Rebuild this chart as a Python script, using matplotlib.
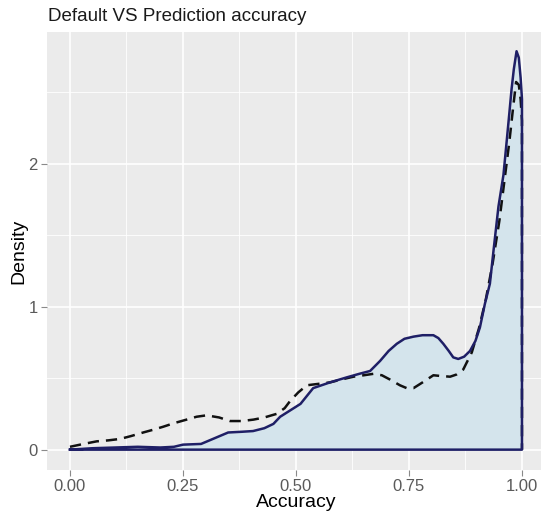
import numpy as np
import matplotlib
matplotlib.use("Agg")
import matplotlib.pyplot as plt
from matplotlib.ticker import FixedLocator

plt.rcParams["font.family"] = "Liberation Sans"

# density of the default model accuracy (filled, solid outline)
default_x = [0.0, 0.05, 0.10, 0.15, 0.20, 0.23, 0.25, 0.29, 0.32, 0.35, 0.38, 0.405,
             0.43, 0.45, 0.465, 0.49, 0.51, 0.538, 0.575, 0.612, 0.64, 0.664, 0.686,
             0.705, 0.723, 0.74, 0.76, 0.78, 0.804, 0.815, 0.826, 0.838, 0.848, 0.859,
             0.872, 0.885, 0.897, 0.907, 0.918, 0.929, 0.937, 0.948, 0.959, 0.966,
             0.972, 0.977, 0.982, 0.988, 0.993, 0.997, 1.0]
default_y = [0.0, 0.01, 0.015, 0.02, 0.015, 0.02, 0.035, 0.04, 0.08, 0.12, 0.125, 0.13,
             0.15, 0.18, 0.23, 0.28, 0.32, 0.43, 0.47, 0.505, 0.53, 0.55, 0.62,
             0.69, 0.74, 0.775, 0.79, 0.80, 0.80, 0.78, 0.74, 0.69, 0.645, 0.634,
             0.65, 0.69, 0.76, 0.855, 1.02, 1.16, 1.39, 1.70, 1.92, 2.15,
             2.35, 2.52, 2.66, 2.785, 2.74, 2.60, 2.45]

# density of the prediction accuracy (dashed)
pred_x = [0.0, 0.03, 0.059, 0.085, 0.111, 0.135, 0.162, 0.185, 0.206, 0.23, 0.258, 0.28,
          0.302, 0.33, 0.354, 0.38, 0.406, 0.43, 0.457, 0.475, 0.487, 0.505, 0.524,
          0.55, 0.575, 0.60, 0.627, 0.65, 0.671, 0.69, 0.708, 0.73, 0.745, 0.76, 0.78,
          0.804, 0.82, 0.841, 0.855, 0.87, 0.889, 0.905, 0.92, 0.935, 0.95, 0.962,
          0.972, 0.98, 0.987, 0.993, 0.997, 1.0]
pred_y = [0.02, 0.04, 0.058, 0.065, 0.075, 0.095, 0.12, 0.14, 0.16, 0.185, 0.21, 0.23,
          0.24, 0.225, 0.20, 0.20, 0.21, 0.225, 0.25, 0.29, 0.34, 0.40, 0.45,
          0.46, 0.47, 0.49, 0.51, 0.52, 0.53, 0.52, 0.49, 0.45, 0.43, 0.43, 0.47,
          0.52, 0.515, 0.51, 0.525, 0.56, 0.68, 0.85, 1.05, 1.30, 1.60, 1.90,
          2.15, 2.38, 2.57, 2.55, 2.45, 2.30]

x_ticks = [0.0, 0.25, 0.5, 0.75, 1.0]
x_labels = ["0.00", "0.25", "0.50", "0.75", "1.00"]
y_ticks = [0, 1, 2]
y_labels = ["0", "1", "2"]

fig = plt.figure(figsize=(5.41, 5.15), dpi=100)
ax = fig.add_axes([0.0876, 0.088, 0.919, 0.850])
ax.set_facecolor("#ebebeb")

ax.set_xlim(-0.05, 1.05)
ax.set_ylim(-0.14, 2.92)

ax.xaxis.set_major_locator(FixedLocator(x_ticks))
ax.xaxis.set_minor_locator(FixedLocator([0.125, 0.375, 0.625, 0.875]))
ax.yaxis.set_major_locator(FixedLocator(y_ticks))
ax.yaxis.set_minor_locator(FixedLocator([0.5, 1.5, 2.5]))
ax.set_xticklabels(x_labels)
ax.set_yticklabels(y_labels)
ax.grid(which="major", color="white", linewidth=1.2)
ax.grid(which="minor", color="white", linewidth=0.6)
ax.set_axisbelow(True)
for s in ax.spines.values():
    s.set_visible(False)
ax.tick_params(which="major", length=4, width=0.8, color="#8a8a8a",
               labelcolor="#5a5a5a", labelsize=12, pad=3)
ax.tick_params(which="minor", length=0)

dx = np.array(default_x)
dy = np.array(default_y)
px = np.array(pred_x)
py = np.array(pred_y)

# filled default density
ax.fill_between(dx, dy, 0, color="#d4e4ec", linewidth=0)

# prediction density, dashed
ax.plot(np.concatenate([px, [px[-1]]]), np.concatenate([py, [0]]),
        color="#111111", linewidth=1.8, linestyle=(0, (4.5, 2.8)))

# default outline, closed along the baseline
ax.plot(np.concatenate([dx, [dx[-1], dx[0]]]),
        np.concatenate([dy, [0, 0]]),
        color="#1f1f66", linewidth=1.8, solid_joinstyle="round")

fig.text(0.0887, 0.967, "Default VS Prediction accuracy", fontsize=13.5,
         ha="left", va="center", color="#1a1a1a")
fig.text(0.547, 0.025, "Accuracy", fontsize=14, ha="center", va="center")
fig.text(0.035, 0.511, "Density", fontsize=14, ha="center", va="center", rotation=90)

fig.savefig("out.png", dpi=100)
